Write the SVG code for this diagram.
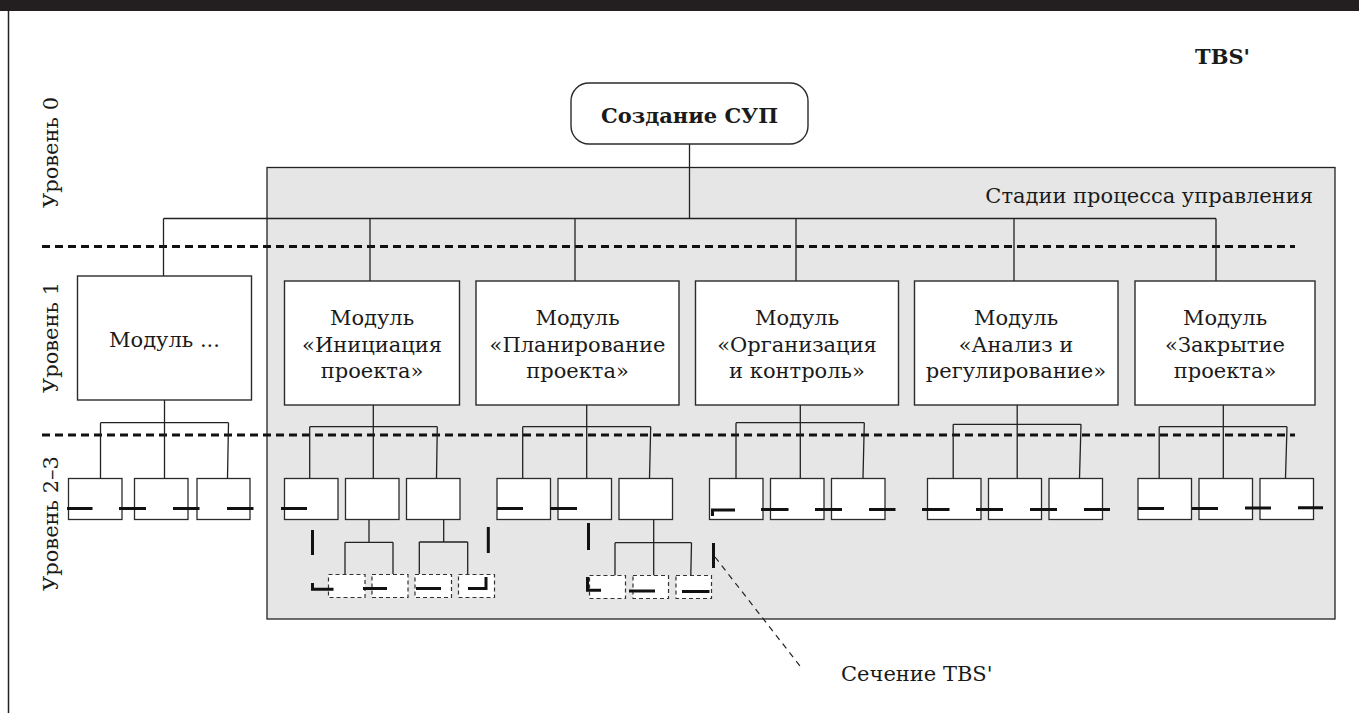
<svg xmlns="http://www.w3.org/2000/svg" width="1359" height="713" viewBox="0 0 1359 713">
<style>
.box{fill:#fff;stroke:#2b2b2b;stroke-width:1.4}
.sub{fill:#fff;stroke:#2b2b2b;stroke-width:1.3}
.sub3{fill:#fff;stroke:#333;stroke-width:1.2;stroke-dasharray:4 3}
.ln{stroke:#222;stroke-width:1.3;fill:none}
.lvl{stroke:#111;stroke-width:3;stroke-dasharray:8 5;fill:none}
.cut{stroke:#111;stroke-width:3;fill:none}
.lead{stroke:#222;stroke-width:1.2;stroke-dasharray:6 5;fill:none}
.t{font-family:"DejaVu Serif","Liberation Serif",serif;font-size:21px;fill:#1a1a1a}
.tc{text-anchor:middle}
.b{font-weight:bold}
</style>
<rect x="0" y="0" width="1359" height="713" fill="#fff"/>
<rect x="0" y="0" width="1359" height="11" fill="#231f20"/>
<line x1="8.5" y1="11" x2="8.5" y2="713" stroke="#222" stroke-width="1.5"/>

<g id="stages-area">
<rect x="267" y="167.5" width="1068" height="451.5" fill="#e6e6e6" stroke="#222" stroke-width="1.3"/>
<text class="t" x="1313" y="203" text-anchor="end">Стадии процесса управления</text>
</g>

<g id="level-labels">
<text class="t tc" transform="translate(58,152.5) rotate(-90)">Уровень 0</text>
<text class="t tc" transform="translate(58,337.5) rotate(-90)">Уровень 1</text>
<text class="t tc" transform="translate(58,523.5) rotate(-90)">Уровень 2–3</text>
<line class="lvl" x1="42" y1="246.5" x2="1295" y2="246.5"/>
<line class="lvl" x1="42" y1="435" x2="1295" y2="435"/>
</g>

<text id="tbs-title" class="t b" x="1250" y="64" text-anchor="end" font-size="17">TBS'</text>

<g id="connectors">
<path class="ln" d="M689.5 144V218.5M163.5 218.5H1216M163.5 218.5V276M370 218.5V281M575 218.5V281M796 218.5V281M1014 218.5V281M1216 218.5V281"/>
<!-- Модуль ... -->
<path class="ln" d="M164.5 400V478M100.5 422.7H228.5M100.5 422.7V478M228.5 422.7L227.5 478"/>
<!-- Инициация -->
<path class="ln" d="M373.3 405V478M309.7 426.7H437.3M309.7 426.7V478M437.3 426.7L436.5 478"/>
<path class="ln" d="M369 519V542.3M345 542.3H393M345 542.3V574M393 542.3V574"/>
<path class="ln" d="M443.7 519V542M419.3 542H467.7M419.3 542V574M467.7 542V574"/>
<!-- Планирование -->
<path class="ln" d="M586.7 405V478M522.7 426.7H650.7M522.7 426.7V478M650.7 426.7L649.5 478"/>
<path class="ln" d="M653.7 519V542.7M615 542.7H691.5M615 542.7V575.5M653.7 542.7V575.5M691.5 542.7L690.8 575.5"/>
<!-- Организация -->
<path class="ln" d="M800.3 405V478M736 422.7H864.3M736 422.7V478M864.3 422.7L863 478"/>
<!-- Анализ -->
<path class="ln" d="M1017.2 405V478M953.2 424.3H1081M953.2 424.3V478M1081 424.3L1079.5 478"/>
<!-- Закрытие -->
<path class="ln" d="M1223.3 405V478M1159.2 426.7H1287M1159.2 426.7V478M1287 426.7L1285.5 478"/>
</g>

<g id="root"><rect x="571" y="83" width="237" height="61" rx="18" class="box"/><text class="t b tc" x="689.5" y="123" font-size="23">Создание СУП</text></g>

<g id="m-other"><rect class="box" x="77.5" y="276" width="174" height="124"/><text class="t tc" x="164.5" y="347">Модуль ...</text></g>
<g id="m-init"><rect class="box" x="284.5" y="281" width="175" height="124"/><text class="t tc" x="372" y="325">Модуль<tspan x="372" y="351.5">«Инициация</tspan><tspan x="372" y="378">проекта»</tspan></text></g>
<g id="m-plan"><rect class="box" x="476" y="281" width="203" height="124"/><text class="t tc" x="577.5" y="325">Модуль<tspan x="577.5" y="351.5">«Планирование</tspan><tspan x="577.5" y="378">проекта»</tspan></text></g>
<g id="m-org"><rect class="box" x="695.5" y="281" width="203" height="124"/><text class="t tc" x="797" y="325">Модуль<tspan x="797" y="351.5">«Организация</tspan><tspan x="797" y="378">и контроль»</tspan></text></g>
<g id="m-anal"><rect class="box" x="914.5" y="281" width="203.5" height="124"/><text class="t tc" x="1016" y="325">Модуль<tspan x="1016" y="351.5">«Анализ и</tspan><tspan x="1016" y="378">регулирование»</tspan></text></g>
<g id="m-close"><rect class="box" x="1135" y="281" width="180" height="124"/><text class="t tc" x="1225" y="325">Модуль<tspan x="1225" y="351.5">«Закрытие</tspan><tspan x="1225" y="378">проекта»</tspan></text></g>

<g id="sub-other"><rect class="sub" x="68.5" y="478.5" width="53.5" height="41"/><rect class="sub" x="134.5" y="478.5" width="53.5" height="41"/><rect class="sub" x="197" y="478.5" width="53" height="41"/></g>
<g id="sub-init"><rect class="sub" x="284.5" y="478.5" width="53.5" height="41"/><rect class="sub" x="345.5" y="478.5" width="53.5" height="41"/><rect class="sub" x="406.5" y="478.5" width="53.5" height="41"/></g>
<g id="sub3-init"><rect class="sub3" x="328.5" y="574.5" width="36.5" height="23"/><rect class="sub3" x="372" y="574.5" width="36" height="23"/><rect class="sub3" x="415" y="574.5" width="36.5" height="23"/><rect class="sub3" x="458.5" y="574.5" width="36" height="23"/></g>
<g id="sub-plan"><rect class="sub" x="497" y="478.5" width="53.5" height="41"/><rect class="sub" x="558" y="478.5" width="53.5" height="41"/><rect class="sub" x="619" y="478.5" width="53.5" height="41"/></g>
<g id="sub3-plan"><rect class="sub3" x="589.5" y="575.5" width="36" height="23"/><rect class="sub3" x="633" y="575.5" width="35.5" height="23"/><rect class="sub3" x="676" y="575.5" width="35.5" height="23"/></g>
<g id="sub-org"><rect class="sub" x="709.5" y="478.5" width="53.5" height="41"/><rect class="sub" x="770.5" y="478.5" width="53.5" height="41"/><rect class="sub" x="831.5" y="478.5" width="53.5" height="41"/></g>
<g id="sub-anal"><rect class="sub" x="927.5" y="478.5" width="53.5" height="41"/><rect class="sub" x="988.5" y="478.5" width="53" height="41"/><rect class="sub" x="1049" y="478.5" width="53.5" height="41"/></g>
<g id="sub-close"><rect class="sub" x="1138" y="478.5" width="53.5" height="41"/><rect class="sub" x="1199" y="478.5" width="53.5" height="41"/><rect class="sub" x="1260" y="478.5" width="53.5" height="41"/></g>

<g id="section-tbs">
<path class="cut" d="M67 508.5H92.5M119 508.5H146M173 508.5H199.5M227 508.5H253.5M281 508.5H307"/>
<path class="cut" d="M312.5 530V555M312.5 583V589.3H333.5M363 588.5H387M416 588.5H441M468 588.5H486V577M488.3 527V553"/>
<path class="cut" d="M497 508.5H523M550 508.5H577M588.5 523V550M587.5 577V590.3H601M629 591H655M682 591.5H709.5M713.5 543V568"/>
<path class="cut" d="M712.5 516V510H735M761 509.5H788.5M815 509.5H842M869 509.5H895.5M922 509.5H949.5M976 509.5H1003M1030 509.5H1057M1084 509.5H1110M1138 508.5H1164M1192 508.5H1218M1245 508H1271M1298 507.8H1323"/>
<path class="lead" d="M715 557L800 666"/>
<text class="t" x="841" y="681">Сечение TBS'</text>
</g>
</svg>
